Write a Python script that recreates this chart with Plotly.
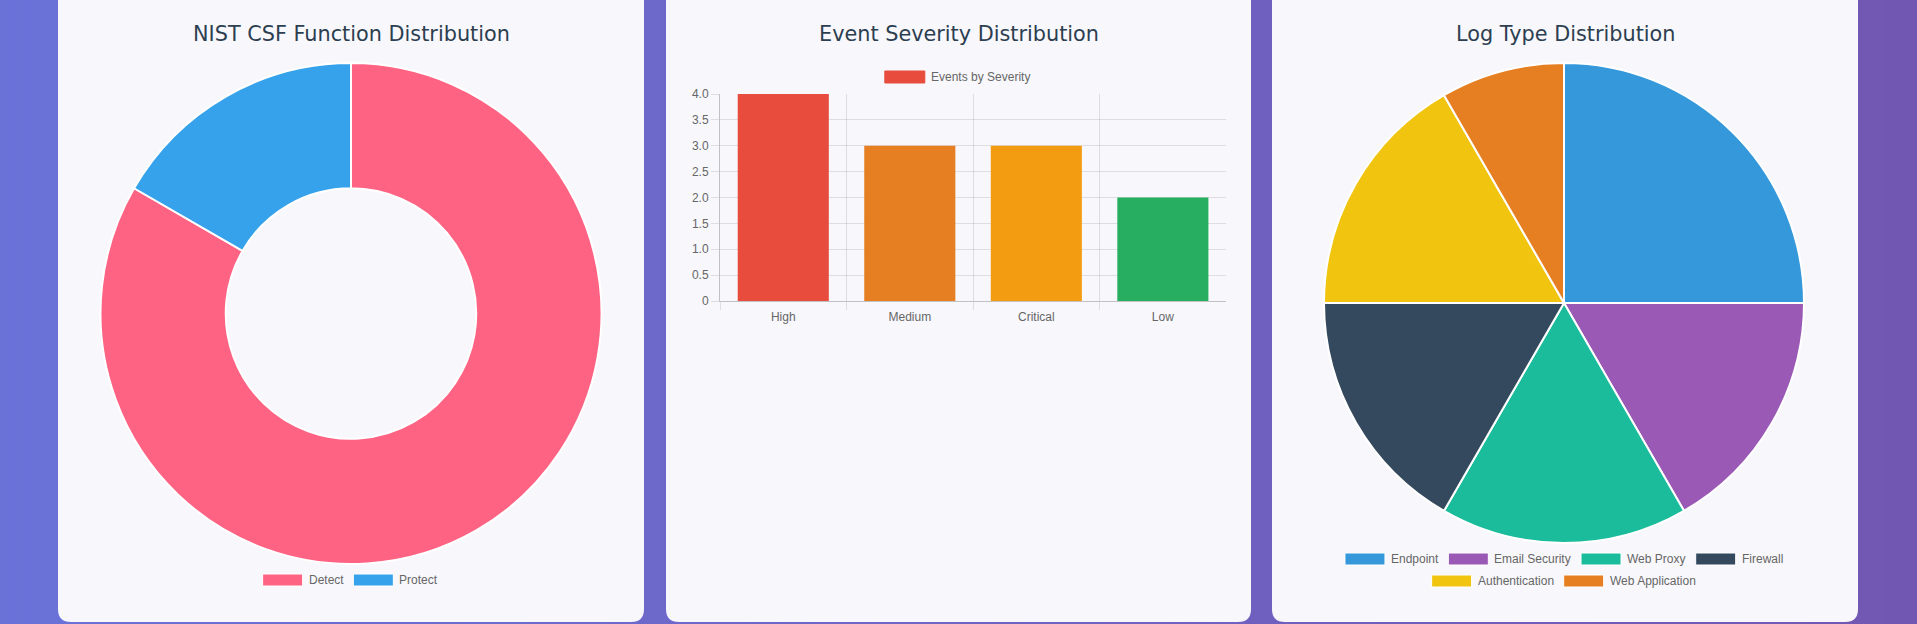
import plotly.graph_objects as go

W, H = 1917, 624

# ---------------- data ----------------
nist_labels = ["Detect", "Protect"]
nist_values = [5, 1]
nist_colors = ["#ff6384", "#36a2eb"]

severity_labels = ["High", "Medium", "Critical", "Low"]
severity_values = [4, 3, 3, 2]
severity_colors = ["#e74c3c", "#e67e22", "#f39c12", "#27ae60"]
severity_series = "Events by Severity"

y_tick_vals = [0, 0.5, 1.0, 1.5, 2.0, 2.5, 3.0, 3.5, 4.0]
y_tick_text = ["0", "0.5", "1.0", "1.5", "2.0", "2.5", "3.0", "3.5", "4.0"]

log_labels = ["Endpoint", "Email Security", "Web Proxy", "Firewall",
              "Authentication", "Web Application"]
log_values = [3, 2, 2, 2, 2, 1]
log_colors = ["#3498db", "#9b59b6", "#1abc9c", "#34495e", "#f1c40f", "#e67e22"]

titles = ["NIST CSF Function Distribution", "Event Severity Distribution",
          "Log Type Distribution"]

# ---------------- helpers ----------------
def fx(px):
    return px / W


def fy(py):
    return 1 - py / H


ARIAL = {
    ' ': 278, 'a': 556, 'b': 556, 'c': 500, 'd': 556, 'e': 556, 'f': 278,
    'g': 556, 'h': 556, 'i': 222, 'j': 222, 'k': 500, 'l': 222, 'm': 833,
    'n': 556, 'o': 556, 'p': 556, 'q': 556, 'r': 333, 's': 500, 't': 278,
    'u': 556, 'v': 500, 'w': 722, 'x': 500, 'y': 500, 'z': 500,
    'A': 667, 'B': 667, 'C': 722, 'D': 722, 'E': 667, 'F': 611, 'G': 778,
    'H': 722, 'I': 278, 'L': 556, 'M': 833, 'N': 722, 'P': 667, 'R': 722,
    'S': 667, 'T': 611, 'W': 944,
}


def text_w(s, size=12):
    return sum(ARIAL.get(c, 556) for c in s) * size / 1000.0


def rounded_rect(x0, y0, x1, y1, r):
    p = [
        f"M {fx(x0 + r)} {fy(y0)}",
        f"L {fx(x1 - r)} {fy(y0)}",
        f"Q {fx(x1)} {fy(y0)} {fx(x1)} {fy(y0 + r)}",
        f"L {fx(x1)} {fy(y1 - r)}",
        f"Q {fx(x1)} {fy(y1)} {fx(x1 - r)} {fy(y1)}",
        f"L {fx(x0 + r)} {fy(y1)}",
        f"Q {fx(x0)} {fy(y1)} {fx(x0)} {fy(y1 - r)}",
        f"L {fx(x0)} {fy(y0 + r)}",
        f"Q {fx(x0)} {fy(y0)} {fx(x0 + r)} {fy(y0)}",
        "Z",
    ]
    return " ".join(p)


shapes = []
annotations = []

# background gradient (strips)
N = 120
c0 = (0x6a, 0x72, 0xd8)
c1 = (0x72, 0x57, 0xb2)
for i in range(N):
    t = i / (N - 1)
    col = tuple(round(c0[k] + (c1[k] - c0[k]) * t) for k in range(3))
    shapes.append(dict(type="rect", xref="paper", yref="paper",
                       x0=i / N, x1=min(1, (i + 1.6) / N), y0=-0.02, y1=1.02,
                       fillcolor="rgb(%d,%d,%d)" % col, line=dict(width=0),
                       layer="below"))

# cards
cards = [(58, 644), (666, 1251), (1272, 1858)]
for (a, b) in cards:
    shapes.append(dict(type="path", xref="paper", yref="paper",
                       path=rounded_rect(a, -12, b, 622, 13),
                       fillcolor="#f8f8fc", line=dict(width=0), layer="below"))

# titles
for (a, b), t in zip(cards, titles):
    annotations.append(dict(text=t, x=fx((a + b) / 2), y=fy(34), xref="paper",
                            yref="paper", showarrow=False, xanchor="center",
                            yanchor="middle",
                            font=dict(family="DejaVu Sans", size=20.8,
                                      color="#2c3e50")))


def legend_rows(rows, cx, ys, colors_map, border):
    for row, yc in zip(rows, ys):
        widths = [46 + text_w(lbl) for lbl in row]
        total = sum(widths) + 10 * (len(row) - 1)
        x = cx - total / 2
        for lbl, w in zip(row, widths):
            shapes.append(dict(type="rect", xref="paper", yref="paper",
                               x0=fx(x), x1=fx(x + 40), y0=fy(yc + 6),
                               y1=fy(yc - 6), fillcolor=colors_map[lbl],
                               line=dict(width=1, color=border), layer="above"))
            annotations.append(dict(text=lbl, x=fx(x + 44), y=fy(yc),
                                    xref="paper", yref="paper", showarrow=False,
                                    xanchor="left", yanchor="middle",
                                    font=dict(family="Liberation Sans", size=12,
                                              color="#666666")))
            x += w + 10


legend_rows([nist_labels], 350, [580], dict(zip(nist_labels, nist_colors)), "#ffffff")
legend_rows([[severity_series]], 957.5, [77], {severity_series: severity_colors[0]},
            severity_colors[0])
legend_rows([log_labels[:4], log_labels[4:]], 1564, [559, 581],
            dict(zip(log_labels, log_colors)), "#ffffff")

fig = go.Figure()

# donut
fig.add_trace(go.Pie(
    labels=nist_labels, values=nist_values, hole=0.5, sort=False,
    direction="clockwise", rotation=0, textinfo="none", automargin=False,
    marker=dict(colors=nist_colors, line=dict(color="#ffffff", width=2)),
    domain=dict(x=[fx(100.5), fx(601.5)], y=[fy(564), fy(63)]),
    showlegend=False,
))

# bar
fig.add_trace(go.Bar(
    x=severity_labels, y=severity_values, name=severity_series,
    marker=dict(color=severity_colors, line=dict(width=0)), width=0.72,
    showlegend=False,
))

# pie
fig.add_trace(go.Pie(
    labels=log_labels, values=log_values, sort=False,
    direction="clockwise", rotation=0, textinfo="none", automargin=False,
    marker=dict(colors=log_colors, line=dict(color="#ffffff", width=2)),
    domain=dict(x=[fx(1324), fx(1804)], y=[fy(543), fy(63)]),
    showlegend=False,
))

grid = "rgba(0,0,0,0.1)"
axis_font = dict(family="Liberation Sans", size=12, color="#666666")

fig.update_layout(
    width=W, height=H, autosize=False,
    margin=dict(l=0, r=0, t=0, b=0, pad=0, autoexpand=False),
    paper_bgcolor="#6d68c8", plot_bgcolor="rgba(0,0,0,0)",
    shapes=shapes, annotations=annotations,
    showlegend=False,
    xaxis=dict(domain=[fx(720), fx(1226)], type="category",
               categoryorder="array", categoryarray=severity_labels,
               range=[-0.5, 3.499], tickson="boundaries", ticks="outside",
               ticklen=8, tickcolor=grid, showgrid=True, gridcolor=grid,
               showline=True, linecolor="rgba(0,0,0,0.22)", linewidth=1,
               tickfont=axis_font, fixedrange=True, automargin=False,
               ticklabelstandoff=5),
    yaxis=dict(domain=[fy(301), fy(94)], range=[0, 4], tickvals=y_tick_vals,
               ticktext=y_tick_text, ticks="outside", ticklen=8,
               tickcolor=grid, showgrid=True, gridcolor=grid, zeroline=False,
               showline=True, linecolor="rgba(0,0,0,0.22)", linewidth=1,
               tickfont=axis_font, fixedrange=True, automargin=False),
)

fig.write_html("out.html", config={"displayModeBar": False, "responsive": False},
               post_script="document.body.style.margin='0';document.body.style.overflow='hidden';")
